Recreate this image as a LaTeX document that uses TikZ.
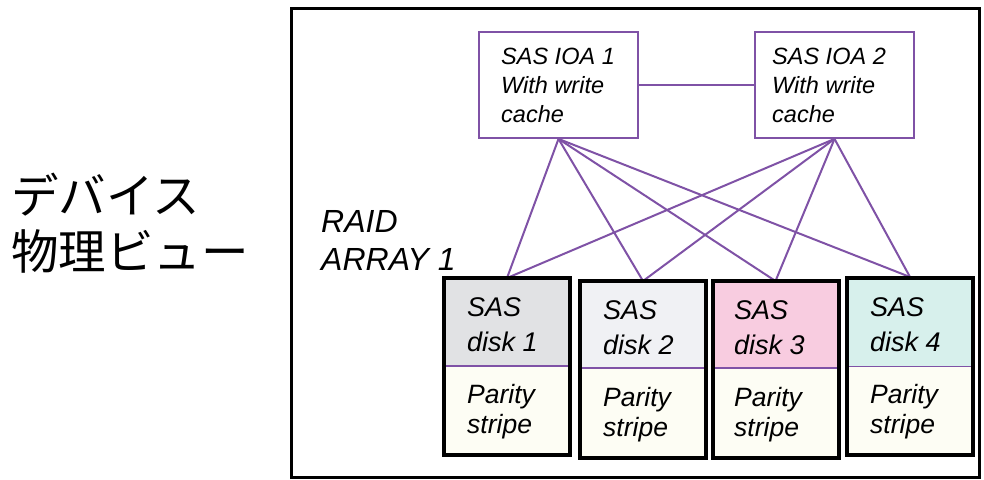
\documentclass[tikz,border=0pt]{standalone}
\usepackage{fontspec}
\setmainfont{Liberation Sans}
\newfontfamily\jpfont{Noto Sans CJK JP}
\definecolor{link}{HTML}{7F52A6}
\definecolor{hdrA}{HTML}{E1E2E4}
\definecolor{hdrB}{HTML}{F0F1F4}
\definecolor{hdrC}{HTML}{F8CCE0}
\definecolor{hdrD}{HTML}{D7F0EC}
\definecolor{parity}{HTML}{FDFDF4}
\tikzset{
  ioabox/.style={draw=link, line width=1.8pt, fill=white, minimum width=159pt, minimum height=106pt, inner sep=0pt},
  diskbox/.style 2 args={draw=black, line width=4pt, fill=parity, minimum width=126pt, minimum height=177pt, inner sep=0pt,
    path picture={
      \fill[#1] (path picture bounding box.north west) rectangle ([yshift=-#2pt]path picture bounding box.north east);
      \draw[link, line width=1.6pt] ([yshift=-#2pt]path picture bounding box.north west) -- ([yshift=-#2pt]path picture bounding box.north east);
    }},
  wire/.style={draw=link, line width=2pt},
  % multi-line labels are placed by the baseline of their last line
  ioatext/.style={font=\fontsize{23.5}{29}\selectfont\itshape, align=left, anchor=base west, inner sep=0pt},
  disktext/.style={font=\fontsize{27}{35}\selectfont\itshape, align=left, anchor=base west, inner sep=0pt},
  partext/.style={font=\fontsize{26.5}{30}\selectfont\itshape, align=left, anchor=base west, inner sep=0pt},
  raidtext/.style={font=\fontsize{32}{38}\selectfont\itshape, align=left, anchor=base west, inner sep=0pt},
  jptext/.style={font=\fontsize{47.5}{56}\selectfont\jpfont, anchor=west, inner sep=0pt}
}
\begin{document}
\begin{tikzpicture}[x=1pt, y=-1pt]
\useasboundingbox (0,0) rectangle (984,479);
% outer frame
\draw[line width=3pt] (291,8) rectangle (979,477);

% side caption
\node[jptext] (cap1) at (11,195) {デバイス};
\node[jptext] (cap2) at (11,251) {物理ビュー};

% IO adapters
\node[ioabox] (ioa1) at (558.5,85) {};
\node[ioabox] (ioa2) at (834.5,85) {};
\node[ioatext] (t1) at (501,122) {SAS IOA 1\\With write\\cache};
\node[ioatext] (t2) at (772,122) {SAS IOA 2\\With write\\cache};

% links
\draw[wire] (ioa1.east) -- (ioa2.west);
\foreach \d/\x/\y in {d1/507/278, d2/643/281, d3/775.5/281, d4/910/277}{
  \coordinate (\d top) at (\x,\y);
  \draw[wire] (ioa1.south) -- (\d top);
  \draw[wire] (ioa2.south) -- (\d top);
}

% disks
\node[diskbox={hdrA}{88}] (d1) at (507,366.5) {};
\node[diskbox={hdrB}{87}] (d2) at (643,369.5) {};
\node[diskbox={hdrC}{87}] (d3) at (775.5,369.5) {};
\node[diskbox={hdrD}{89}] (d4) at (910,366) {};

\node[disktext] (s1) at (467,351) {SAS\\disk 1};
\node[disktext] (s2) at (603,354) {SAS\\disk 2};
\node[disktext] (s3) at (734,354) {SAS\\disk 3};
\node[disktext] (s4) at (870,351) {SAS\\disk 4};
\node[partext] (p1) at (467,433) {Parity\\stripe};
\node[partext] (p2) at (603,436) {Parity\\stripe};
\node[partext] (p3) at (734,436) {Parity\\stripe};
\node[partext] (p4) at (870,433) {Parity\\stripe};

\node[raidtext] (raid) at (321,270) {RAID\\ARRAY 1};
\end{tikzpicture}
\end{document}
